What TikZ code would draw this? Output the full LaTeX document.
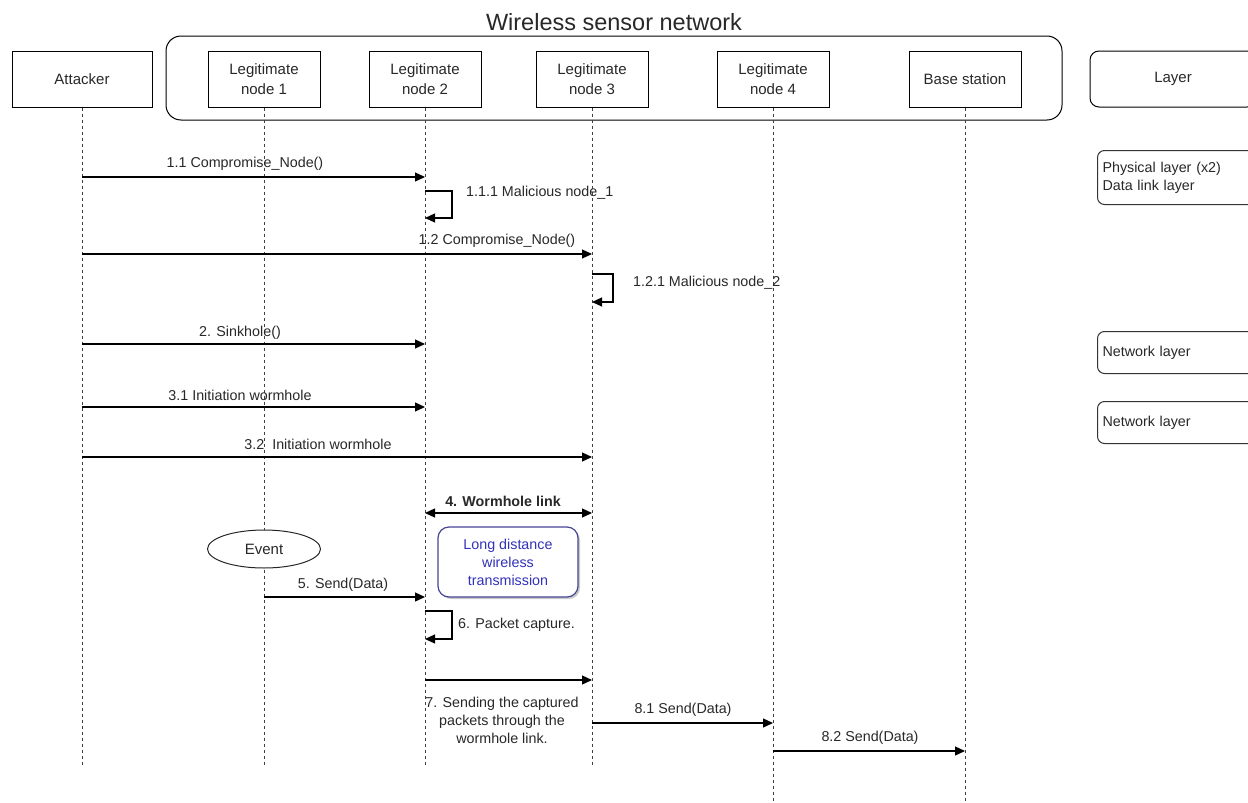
\documentclass[tikz,border=0pt]{standalone}
\usepackage{fontspec}
\setmainfont{Liberation Sans}
\usetikzlibrary{arrows.meta,shapes.geometric,shadows}
\definecolor{ink}{RGB}{40,40,40}
\definecolor{navy}{RGB}{70,70,150}
\definecolor{bluetext}{RGB}{50,50,185}
\begin{document}
\begin{tikzpicture}[x=1pt,y=-1pt,
  every node/.style={text=ink,font=\fontsize{14.3}{18}\selectfont},
  actor/.style={draw=black,line width=1pt,fill=white,minimum height=56,minimum width=112,
    align=center,inner sep=0pt,font=\fontsize{15}{19.5}\selectfont},
  layerbox/.style={draw=black!80,line width=1pt,rounded corners=7,fill=white,anchor=north west,
    align=left,inner xsep=4pt,inner ysep=0pt,text width=160,minimum width=170},
  life/.style={draw=black!75,line width=1pt,dash pattern=on 3pt off 3pt},
  tip/.style={Triangle[length=10pt,width=9pt]},
  msg/.style={draw=black,line width=1.2pt,-{Triangle[length=10pt,width=9pt]}},
  lbl/.style={inner sep=0pt}]
\clip (0,0) rectangle (1248,803);
\useasboundingbox (0,0) rectangle (1248,803);
\fill[white] (0,0) rectangle (1248,803);

% title and the network frame
\node[font=\fontsize{23.5}{28}\selectfont,anchor=base] (title) at (614,30) {Wireless sensor network};
\node[draw=black,line width=1pt,rounded corners=15,minimum width=896,minimum height=84,inner sep=0pt]
  (wsn) at (614,78) {};

% participants
\node[actor,minimum width=140] (att) at (82,79) {Attacker};
\node[actor] (n1) at (264,79) {Legitimate\\node 1};
\node[actor] (n2) at (425,79) {Legitimate\\node 2};
\node[actor] (n3) at (592,79) {Legitimate\\node 3};
\node[actor] (n4) at (773,79) {Legitimate\\node 4};
\node[actor] (bs) at (965,79) {Base station};
\node[draw=black,line width=1pt,rounded corners=9,minimum width=166,minimum height=56,fill=white,
  font=\fontsize{15}{19.5}\selectfont] (layer) at (1173,79) {Layer};

% lifelines
\coordinate (attE) at (82,766);
\coordinate (n1E) at (264,766);
\coordinate (n2E) at (425,766);
\coordinate (n3E) at (592,766);
\coordinate (n4E) at (773,803);
\coordinate (bsE) at (965,803);
\draw[life] (att.south) -- (attE);
\draw[life] (n1.south) -- (n1E);
\draw[life] (n2.south) -- (n2E);
\draw[life] (n3.south) -- (n3E);
\draw[life] (n4.south) -- (n4E);
\draw[life] (bs.south) -- (bsE);

% layer annotations
\node[layerbox,minimum height=54] (l1) at (1097,150) {Physical layer (x2)\\Data link layer};
\node[layerbox,minimum height=42] (l2) at (1097,331) {Network layer};
\node[layerbox,minimum height=42] (l3) at (1097,401) {Network layer};

% 1. compromising the nodes
\draw[msg] (att.south |- 0,177) -- (n2.south |- 0,177);
\node[lbl] (t11) at (245,164) {1.1 Compromise\_Node()};
\draw[msg] (n2.south |- 0,191) -- ++(27,0) |- (n2.south |- 0,218);
\node[lbl,anchor=west] (t111) at (466,193) {1.1.1 Malicious node\_1};
\draw[msg] (att.south |- 0,254) -- (n3.south |- 0,254);
\node[lbl] (t12) at (497,241) {1.2 Compromise\_Node()};
\draw[msg] (n3.south |- 0,274) -- ++(21,0) |- (n3.south |- 0,302);
\node[lbl,anchor=west] (t121) at (633,283) {1.2.1 Malicious node\_2};

% 2. sinkhole, 3. wormhole set-up
\draw[msg] (att.south |- 0,344) -- (n2.south |- 0,344);
\node[lbl] (t2) at (240,333) {2. Sinkhole()};
\draw[msg] (att.south |- 0,407) -- (n2.south |- 0,407);
\node[lbl] (t31) at (240,395) {3.1 Initiation wormhole};
\draw[msg] (att.south |- 0,457) -- (n3.south |- 0,457);
\node[lbl] (t32) at (318,444) {3.2~~Initiation wormhole};

% 4. wormhole link
\draw[line width=1.2pt,{Triangle[length=10pt,width=9pt]}-{Triangle[length=10pt,width=9pt]}]
  (n2.south |- 0,513) -- (n3.south |- 0,513);
\node[lbl,font=\bfseries\fontsize{14.3}{18}\selectfont] (t4) at (503,501) {4. Wormhole link};
\node[draw=navy,line width=1.2pt,rounded corners=11,fill=white,minimum width=140,minimum height=70,
  align=center,inner sep=0pt,text=bluetext,
  drop shadow={shadow xshift=2pt,shadow yshift=-2pt,fill=black!35,opacity=0.6}]
  (ld) at (508,562) {Long distance\\wireless\\transmission};

% 5. event and data sending
\node[draw=black!85,line width=1pt,ellipse,fill=white,minimum width=113,minimum height=38,
  inner sep=0pt,font=\fontsize{15}{18}\selectfont] (ev) at (264,549) {Event};
\draw[msg] (n1.south |- 0,597) -- (n2.south |- 0,597);
\node[lbl] (t5) at (343,585) {5. Send(Data)};

% 6. packet capture
\draw[msg] (n2.south |- 0,611) -- ++(27,0) |- (n2.south |- 0,639);
\node[lbl,anchor=west] (t6) at (458,625) {6. Packet capture.};

% 7. tunnelling through the wormhole
\draw[msg] (n2.south |- 0,680) -- (n3.south |- 0,680);
\node[lbl,align=center] (t7) at (502,720) {7. Sending the captured\\packets through the\\wormhole link.};

% 8. delivery to the base station
\draw[msg] (n3.south |- 0,723) -- (n4.south |- 0,723);
\node[lbl] (t81) at (683,710) {8.1 Send(Data)};
\draw[msg] (n4.south |- 0,751) -- (bs.south |- 0,751);
\node[lbl] (t82) at (870,738) {8.2 Send(Data)};
\end{tikzpicture}
\end{document}
